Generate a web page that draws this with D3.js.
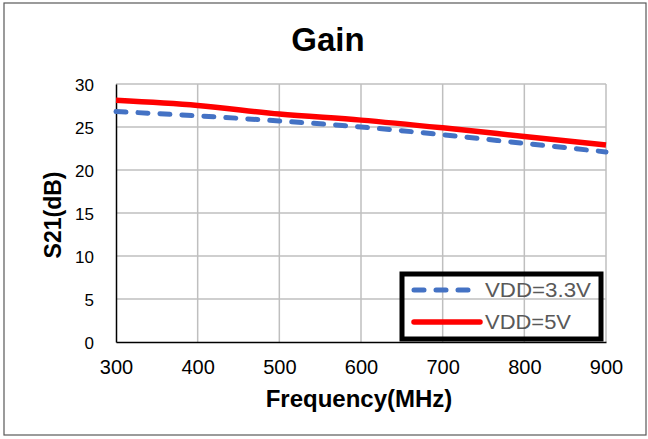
<html>
<head>
<script src="https://d3js.org/d3.v7.min.js"></script>
<style>
  body { margin:0; background:#fff; }
  svg text { font-family: "Liberation Sans", Arial, sans-serif; }
</style>
</head>
<body>
<div class="chart"></div>
<script>
    // values
    const freq = [300, 400, 500, 600, 700, 800, 900];
    const vdd33 = [26.8, 26.3, 25.7, 25.0, 24.1, 23.1, 22.1];
    const vdd5 = [28.1, 27.5, 26.5, 25.8, 24.9, 23.9, 22.9];
    const xTicks = [300, 400, 500, 600, 700, 800, 900];
    const yTicks = [0, 5, 10, 15, 20, 25, 30];
    const seriesNames = ["VDD=3.3V", "VDD=5V"];

    const width = 648, height = 439;
    const plotL = 116, plotR = 606, plotT = 84, plotB = 342;

    const svg = d3.select('.chart').append('svg')
        .attr('width', width)
        .attr('height', height);

    svg.append('rect')
        .attr('x', 4).attr('y', 3)
        .attr('width', 642).attr('height', 432)
        .attr('fill', '#fff')
        .attr('stroke', '#595959')
        .attr('stroke-width', 1.2);

    const xScale = d3.scaleLinear().domain([300, 900]).range([plotL, plotR]);
    const yScale = d3.scaleLinear().domain([0, 30]).range([plotB, plotT]);

    // grid
    svg.append('g').selectAll('line')
        .data(xTicks.slice(1))
        .join('line')
        .attr('x1', d => xScale(d)).attr('x2', d => xScale(d))
        .attr('y1', plotT).attr('y2', plotB)
        .attr('stroke', '#bfbfbf').attr('stroke-width', 1.5);
    svg.append('g').selectAll('line')
        .data(yTicks.slice(1))
        .join('line')
        .attr('x1', plotL).attr('x2', plotR)
        .attr('y1', d => yScale(d)).attr('y2', d => yScale(d))
        .attr('stroke', '#bfbfbf').attr('stroke-width', 1.5);

    // axes
    const xAxis = d3.axisBottom(xScale).tickValues(xTicks).tickSize(0).tickPadding(18);
    const xg = svg.append('g').attr('transform', `translate(0,${plotB})`).call(xAxis);
    xg.select('.domain').attr('stroke', '#000').attr('stroke-width', 1.5);
    xg.selectAll('text').attr('font-size', 20).attr('fill', '#000');

    const yAxis = d3.axisLeft(yScale).tickValues(yTicks).tickSize(0).tickPadding(22);
    const yg = svg.append('g').attr('transform', `translate(${plotL},0)`).call(yAxis);
    yg.select('.domain').attr('stroke', '#000').attr('stroke-width', 1.5);
    yg.selectAll('text').attr('font-size', 17).attr('fill', '#000').attr('dy', '0.4em');

    // lines
    const line = d3.line()
        .x((d, i) => xScale(freq[i]))
        .y(d => yScale(d))
        .curve(d3.curveMonotoneX);

    svg.append('path')
        .attr('d', line(vdd33))
        .attr('fill', 'none')
        .attr('stroke', '#4472c4')
        .attr('stroke-width', 5)
        .attr('stroke-dasharray', '10,12')
        .attr('stroke-linecap', 'round');

    svg.append('path')
        .attr('d', line(vdd5))
        .attr('fill', 'none')
        .attr('stroke', '#ff0000')
        .attr('stroke-width', 5.5);

    // titles
    svg.append('text')
        .attr('x', 328).attr('y', 51)
        .attr('text-anchor', 'middle')
        .attr('font-size', 33).attr('font-weight', 'bold')
        .text('Gain');

    svg.append('text')
        .attr('x', 359).attr('y', 407)
        .attr('text-anchor', 'middle')
        .attr('font-size', 24).attr('font-weight', 'bold')
        .text('Frequency(MHz)');

    svg.append('text')
        .attr('transform', 'translate(61,215) rotate(-90)')
        .attr('text-anchor', 'middle')
        .attr('font-size', 23).attr('font-weight', 'bold')
        .text('S21(dB)');

    // legend
    const lg = svg.append('g');
    lg.append('rect')
        .attr('x', 402).attr('y', 274)
        .attr('width', 199).attr('height', 65)
        .attr('fill', 'none')
        .attr('stroke', '#000')
        .attr('stroke-width', 5);

    const legendItems = [
        { name: seriesNames[0], color: '#4472c4', dash: '10,12', w: 5, x2: 473, len: 106 },
        { name: seriesNames[1], color: '#ff0000', dash: null, w: 5.5, x2: 480, len: 86 }
    ];
    legendItems.forEach((d, i) => {
        const y = 290 + i * 32;
        lg.append('line')
            .attr('x1', 414).attr('x2', d.x2)
            .attr('y1', y).attr('y2', y)
            .attr('stroke', d.color)
            .attr('stroke-width', d.w)
            .attr('stroke-linecap', 'round')
            .attr('stroke-dasharray', d.dash);
        lg.append('text')
            .attr('x', 485).attr('y', y + 7)
            .attr('font-size', 20)
            .attr('textLength', d.len)
            .attr('lengthAdjust', 'spacingAndGlyphs')
            .attr('fill', '#595959')
            .text(d.name);
    });
</script>
</body>
</html>
